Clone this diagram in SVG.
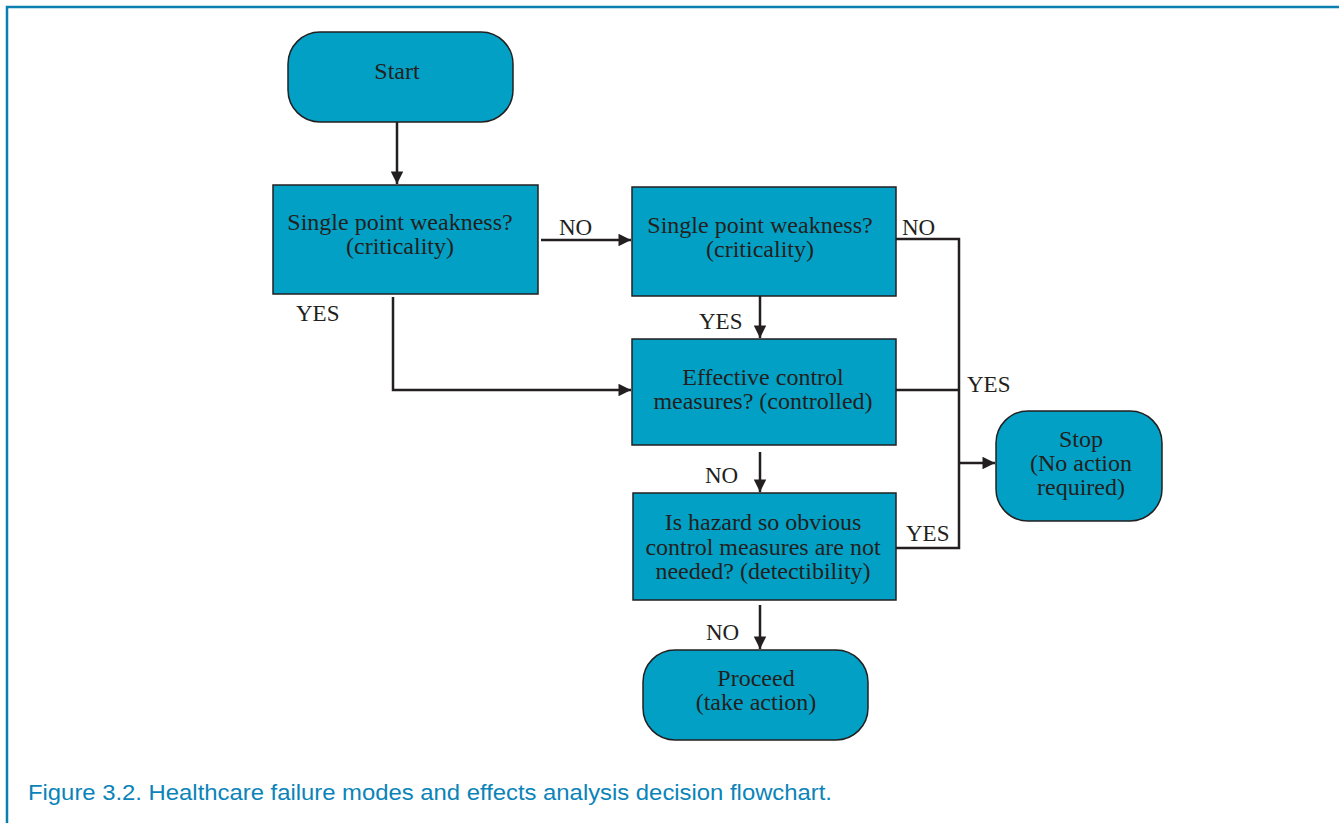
<svg xmlns="http://www.w3.org/2000/svg" width="1339" height="823" viewBox="0 0 1339 823">
<style>
.n{fill:#02a0c5;stroke:#231f20;stroke-width:1.5}
.t{font-family:"Liberation Serif",serif;font-size:24px;fill:#231f20;text-anchor:middle}
.l{font-family:"Liberation Serif",serif;font-size:23px;fill:#231f20}
.c{fill:none;stroke:#231f20;stroke-width:2.5}
.cap{font-family:"Liberation Sans",sans-serif;font-size:22px;fill:#0a84b8}
</style>
<defs>
<marker id="a" viewBox="0 0 10 10" refX="10" refY="5" markerWidth="5.2" markerHeight="5" orient="auto" markerUnits="strokeWidth">
<path d="M0,0L10,5L0,10z" fill="#231f20"/>
</marker>
</defs>
<rect width="1339" height="823" fill="#fff"/>
<path d="M7,823V7H1339" fill="none" stroke="#0a7fb0" stroke-width="2.5"/>
<g id="start"><rect class="n" x="288" y="32" width="225" height="90" rx="32"/><text class="t" x="397" y="79">Start</text></g>
<g id="q1"><rect class="n" x="273" y="185" width="265" height="109"/><text class="t" x="400" y="230">Single point weakness?</text><text class="t" x="400" y="254">(criticality)</text></g>
<g id="q2"><rect class="n" x="632" y="187" width="264" height="109"/><text class="t" x="760" y="233">Single point weakness?</text><text class="t" x="760" y="257">(criticality)</text></g>
<g id="q3"><rect class="n" x="632" y="339" width="264" height="106"/><text class="t" x="763" y="385">Effective control</text><text class="t" x="763" y="409">measures? (controlled)</text></g>
<g id="q4"><rect class="n" x="633" y="493" width="263" height="107"/><text class="t" x="763" y="530">Is hazard so obvious</text><text class="t" x="763" y="555">control measures are not</text><text class="t" x="763" y="579">needed? (detectibility)</text></g>
<g id="stop"><rect class="n" x="996" y="411" width="166" height="110" rx="32"/><text class="t" x="1081" y="447">Stop</text><text class="t" x="1081" y="471">(No action</text><text class="t" x="1081" y="495">required)</text></g>
<g id="proceed"><rect class="n" x="643" y="650" width="225" height="90" rx="32"/><text class="t" x="756" y="686">Proceed</text><text class="t" x="756" y="710">(take action)</text></g>
<g id="connectors">
<path class="c" d="M397,122V184" marker-end="url(#a)"/>
<path class="c" d="M541,240H631" marker-end="url(#a)"/>
<path class="c" d="M393,297V390H631" marker-end="url(#a)"/>
<path class="c" d="M760,296V338" marker-end="url(#a)"/>
<path class="c" d="M760,452V492" marker-end="url(#a)"/>
<path class="c" d="M760,605V649" marker-end="url(#a)"/>
<path class="c" d="M896,239H959V548H896"/>
<path class="c" d="M896,390H959"/>
<path class="c" d="M959,463H995" marker-end="url(#a)"/>
<text class="l" x="559" y="235">NO</text>
<text class="l" x="902" y="235">NO</text>
<text class="l" x="296" y="321">YES</text>
<text class="l" x="699" y="329">YES</text>
<text class="l" x="967" y="392">YES</text>
<text class="l" x="705" y="483">NO</text>
<text class="l" x="906" y="541">YES</text>
<text class="l" x="706" y="640">NO</text>
</g>
<text class="cap" x="28" y="800" textLength="804" lengthAdjust="spacingAndGlyphs">Figure 3.2. Healthcare failure modes and effects analysis decision flowchart.</text>
</svg>
